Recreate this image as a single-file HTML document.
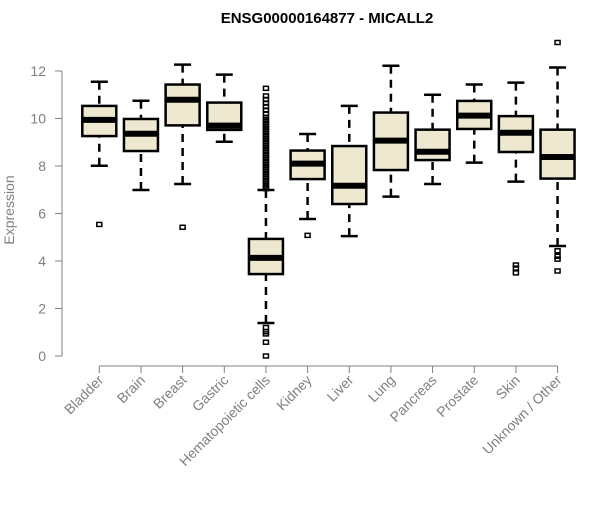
<!DOCTYPE html>
<html><head><meta charset="utf-8"><style>
body{margin:0;background:#fff}
text{font-family:"Liberation Sans",Arial,sans-serif}
</style></head><body>
<svg id="chart" width="600" height="500" xmlns="http://www.w3.org/2000/svg">
<text x="327" y="23" text-anchor="middle" font-size="15" font-weight="bold">ENSG00000164877 - MICALL2</text>
<text transform="translate(14,210) rotate(-90)" text-anchor="middle" font-size="14" fill="#808080">Expression</text>
<g id="yaxis"></g>
<g id="xaxis"></g>
<g id="boxes"></g>
</svg>
<script>
const categories=["Bladder","Brain","Breast","Gastric","Hematopoietic cells","Kidney","Liver","Lung","Pancreas","Prostate","Skin","Unknown / Other"];
const whiskerLow=[8.01,6.99,7.24,9.02,1.39,5.77,5.05,6.71,7.24,8.14,7.34,4.63];
const q1=[9.26,8.63,9.71,9.52,3.45,7.45,6.4,7.83,8.25,9.56,8.59,7.47];
const medians=[9.94,9.36,10.79,9.7,4.13,8.1,7.17,9.07,8.6,10.12,9.4,8.38];
const q3=[10.53,9.98,11.43,10.67,4.93,8.65,8.84,10.25,9.53,10.74,10.1,9.53];
const whiskerHigh=[11.55,10.75,12.27,11.85,6.99,9.35,10.53,12.22,11.0,11.43,11.51,12.15];
const outliers=[[5.54],[],[5.42],[],[0,0.58,0.93,1.02,1.2,7.05,7.15,7.25,7.35,7.45,7.55,7.65,7.75,7.85,7.95,8.05,8.15,8.25,8.35,8.45,8.55,8.65,8.75,8.85,8.95,9.05,9.15,9.25,9.35,9.45,9.55,9.65,9.75,9.85,9.95,10.05,10.2,10.35,10.5,10.65,10.8,10.95,11.27],[5.08],[],[],[],[],[3.5,3.7,3.83],[3.58,4.08,4.2,4.43,13.2]];
const yTicks=[0,2,4,6,8,10,12];
const NS="http://www.w3.org/2000/svg";
const y=v=>356-v*23.75;
const x=i=>99.3+i*41.66;
function mk(tag,attrs,parent){const e=document.createElementNS(NS,tag);for(const k in attrs)e.setAttribute(k,attrs[k]);parent.appendChild(e);return e;}
const ya=document.getElementById('yaxis'),xa=document.getElementById('xaxis'),bx=document.getElementById('boxes');
mk('line',{x1:62,x2:62,y1:y(12),y2:y(0),stroke:'#808080'},ya);
yTicks.forEach(t=>{
  const l=mk('line',{x1:55,x2:62,y1:y(t),y2:y(t),stroke:'#808080'},ya);
  
  
  const tx=mk('text',{x:46,y:y(t)+5,'text-anchor':'end','font-size':14,fill:'#808080'},ya);
  tx.textContent=t;
  
  
});
mk('line',{x1:x(0),x2:x(categories.length-1),y1:366,y2:366,stroke:'#808080'},xa);
categories.forEach((c,i)=>{
  const l=mk('line',{x1:x(i),x2:x(i),y1:366,y2:373,stroke:'#808080'},xa);
  
  
  const tx=mk('text',{transform:`translate(${x(i)+5},${381}) rotate(-45)`,'text-anchor':'end','font-size':14,fill:'#808080'},xa);
  tx.textContent=c;
  
  
});
const hw=17;
categories.forEach((c,i)=>{
  const g=mk('g',{},bx);
  
  
  const cx=x(i);
  mk('line',{x1:cx,x2:cx,y1:y(whiskerHigh[i]),y2:y(q3[i]),stroke:'#000','stroke-width':2.5,'stroke-dasharray':'8,6'},g);
  mk('line',{x1:cx,x2:cx,y1:y(whiskerLow[i]),y2:y(q1[i]),stroke:'#000','stroke-width':2.5,'stroke-dasharray':'8,6'},g);
  mk('line',{x1:cx-8.5,x2:cx+8.5,y1:y(whiskerHigh[i]),y2:y(whiskerHigh[i]),stroke:'#000','stroke-width':2.5},g);
  mk('line',{x1:cx-8.5,x2:cx+8.5,y1:y(whiskerLow[i]),y2:y(whiskerLow[i]),stroke:'#000','stroke-width':2.5},g);
  mk('rect',{x:cx-hw,y:y(q3[i]),width:hw*2,height:y(q1[i])-y(q3[i]),fill:'#ede8cf',stroke:'#000','stroke-width':2.5},g);
  mk('line',{x1:cx-hw,x2:cx+hw,y1:y(medians[i]),y2:y(medians[i]),stroke:'#000','stroke-width':6},g);
  outliers[i].forEach(v=>{
    const o=mk('rect',{x:cx-2.5,y:y(v)-2,width:5,height:4,fill:'none',stroke:'#000','stroke-width':1.5},g);
    
    
  });
});
</script>
</body></html>
